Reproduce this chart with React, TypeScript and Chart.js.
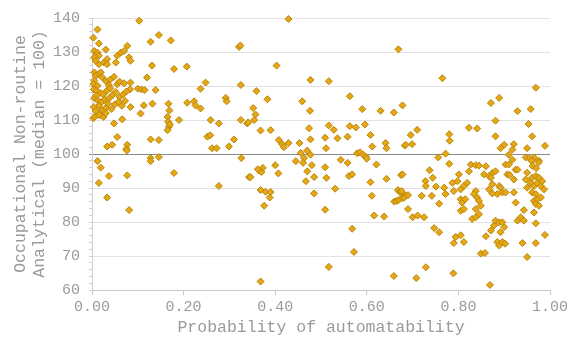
import React, { useEffect, useRef } from "react";
import { Chart, registerables } from "chart.js";

Chart.register(...registerables);

// [probability of automatability, occupational non-routine analytical score]
const lowRiskJobs: [number, number][] = [
  [0.012,136.6],[0.003,134.2],[0.015,132.5],[0.005,130.3],[0.012,129.8],[0.015,128.9],[0.005,128.4],[0.008,127.4],
  [0.015,126.4],[0.026,126.9],[0.033,127.9],[0.033,126.4],[0.030,130.7],[0.052,126.9],[0.055,128.9],[0.063,129.8],
  [0.070,130.3],[0.077,131.8],[0.081,128.4],[0.084,127.4],[0.005,124],[0.008,123],[0.005,121.6],[0.003,120.6],
  [0.012,120.1],[0.015,123.5],[0.019,124],[0.022,122.6],[0.030,121.5],[0.040,121.9],[0.048,122.7],[0.055,120.5],
  [0.060,121.3],[0.037,120.2],[0.084,121],[0.083,119],[0.070,120.8],
  [0.004,119],[0.010,118.5],[0.018,118],[0.025,117.5],[0.032,118.6],[0.040,119.3],[0.045,117.4],[0.052,118.2],
  [0.060,116.8],[0.068,117.5],[0.005,116.5],[0.012,115.8],[0.020,115.2],[0.028,116.1],[0.035,114.8],[0.015,114.2],
  [0.004,113.8],[0.008,112.7],[0.022,112.9],[0.030,113.5],[0.042,113.2],[0.050,114.6],[0.058,115.3],[0.065,114.2],
  [0.072,115.6],[0.018,111.5],[0.025,110.9],[0.003,110.5],[0.006,111],[0.015,111.5],[0.030,112],[0.048,109],
  [0.066,110.2],[0.010,117.2],[0.038,116.4],[0.075,118.4],
  [0.103,139.2],[0.128,133],[0.146,135],[0.172,133.4],[0.131,126],[0.179,125],[0.207,125.7],[0.321,131.5],
  [0.324,131.9],[0.120,122.5],[0.100,119.2],[0.108,119],[0.115,118.8],[0.139,118.8],[0.248,121],[0.237,119.2],
  [0.325,120.3],[0.084,113.8],[0.106,111.9],[0.113,114.3],[0.132,114.8],[0.167,114.8],[0.169,112.8],[0.165,110.9],
  [0.166,109.5],[0.168,108],[0.170,108.7],[0.165,107],[0.190,110],[0.208,115.1],[0.223,115.5],[0.226,114.3],
  [0.237,113.4],[0.292,116.5],[0.294,115.5],[0.259,110],[0.277,109],[0.325,110],[0.339,109],[0.055,105],
  [0.033,102.2],[0.044,102.7],[0.077,102.7],[0.075,101.5],[0.076,101],[0.128,104.3],[0.146,104.1],[0.252,105.1],
  [0.258,105.5],[0.262,101.7],[0.272,101.7],[0.299,102.2],[0.310,104.3],
  [0.012,97.9],[0.019,96],[0.037,93.5],[0.015,91.5],[0.033,87.2],[0.077,93.7],[0.081,83.5],[0.128,98.8],
  [0.128,97.9],[0.146,99.1],[0.179,94.4],[0.277,90.6],[0.326,98.8],[0.343,93.2],
];

const midRiskJobs: [number, number][] = [
  [0.429,139.7],[0.669,130.8],[0.403,126],[0.477,121.8],[0.517,121.4],[0.359,118.5],[0.383,116.1],[0.459,115.5],
  [0.476,112.7],[0.563,117],[0.590,113.2],[0.630,112.7],[0.659,112.2],[0.678,114.3],[0.352,113.5],[0.357,111.6],
  [0.354,110],[0.341,109.3],[0.368,106.9],[0.390,107],[0.408,104.1],[0.415,102.9],[0.419,102],[0.429,103.2],
  [0.474,107.6],[0.477,104.3],[0.453,103.2],[0.470,101],[0.477,99.8],[0.456,100.3],[0.463,98.8],[0.445,97.9],
  [0.461,97.4],[0.480,96.7],[0.470,94.9],[0.467,92],[0.485,93.2],[0.509,104.8],[0.511,101.7],[0.517,108.4],
  [0.528,107.1],[0.536,104.6],[0.509,96.1],[0.512,93],[0.531,89.8],[0.509,83.6],[0.485,88.4],[0.543,98.3],
  [0.558,97.4],[0.561,93.5],[0.568,94],[0.558,105.1],[0.563,108.2],[0.576,107.8],[0.596,108.7],[0.608,105.6],
  [0.612,102.2],[0.641,103.2],[0.643,101.7],[0.683,102.5],[0.579,100.2],[0.585,100.5],[0.592,99.8],[0.598,99.2],
  [0.600,98.6],[0.621,96.9],[0.608,91.7],[0.611,87.7],[0.616,81.9],[0.638,81.6],[0.643,92.7],[0.675,93.8],
  [0.668,89.4],[0.672,88.9],[0.675,88.5],[0.660,86],[0.665,86.2],[0.670,86.5],[0.678,87],[0.685,87.8],
  [0.568,78],[0.572,71.2],[0.517,66.8],[0.659,64.1],[0.368,62.5],[0.346,93.2],[0.365,95.1],[0.373,95.9],
  [0.370,94.7],[0.362,95.5],[0.368,89.4],[0.379,88.9],[0.390,88.8],[0.388,87.2],[0.376,84.8],[0.400,96.7],
  [0.407,94.3],
];

const highRiskJobs: [number, number][] = [
  [0.765,122.3],[0.969,119.5],[0.871,115],[0.889,116.5],[0.929,112.6],[0.958,113.2],[0.881,109.8],[0.881,105.2],
  [0.953,108.8],[0.961,105.2],[0.823,107.7],[0.841,107.5],[0.780,105.8],[0.781,103.9],[0.696,105.6],[0.710,107.1],
  [0.685,102.7],[0.699,102.9],[0.989,102.4],[0.892,101.7],[0.900,102.7],[0.921,102.9],[0.918,101.3],[0.950,101.7],
  [0.947,99],[0.965,99],[0.976,98],[0.955,98.7],[0.960,98],[0.772,100.1],[0.756,99],[0.780,97.1],
  [0.678,94],[0.676,89.1],[0.682,87.2],[0.690,87.9],[0.690,83.8],[0.700,81.4],[0.711,81.9],[0.725,81.4],
  [0.737,95.2],[0.744,93],[0.751,90.4],[0.728,92],[0.729,90.6],[0.720,87.7],[0.742,87.7],[0.758,85.4],
  [0.769,90.1],[0.772,88.2],[0.747,78.2],[0.758,77],[0.787,91.5],[0.790,89.1],[0.798,92],[0.801,94],
  [0.805,89.6],[0.812,90.6],[0.819,91.5],[0.823,94.9],[0.827,96.9],[0.838,96.7],[0.845,96.6],[0.860,96.4],
  [0.805,86.7],[0.808,85.7],[0.805,83.3],[0.815,86.7],[0.812,83.8],[0.838,89.1],[0.841,87.2],[0.845,86.2],
  [0.834,88.2],[0.830,80.9],[0.838,81.4],[0.794,75.6],[0.805,76.1],[0.790,73.8],[0.812,74.1],[0.849,70.7],
  [0.858,70.9],[0.860,75.8],[0.871,77.5],[0.878,79],[0.881,80.4],[0.889,79.9],[0.896,79.9],[0.900,78.5],
  [0.892,77],[0.885,74.1],[0.889,73.1],[0.896,74.1],[0.902,73.6],[0.867,93.5],[0.874,94.4],[0.881,94.9],
  [0.889,90.6],[0.892,90.1],[0.885,88.2],[0.896,88.7],[0.903,88.7],[0.907,94],[0.912,93.8],[0.903,96.9],
  [0.910,96.9],[0.921,92.5],[0.921,88.7],[0.925,85.7],[0.929,80.4],[0.936,81.4],[0.943,83.5],[0.940,73.8],
  [0.950,69.7],[0.918,98.3],[0.910,99.8],[0.925,95.4],[0.947,92.5],[0.950,90.1],[0.958,91.5],[0.961,93],
  [0.965,90.6],[0.969,93.5],[0.972,91.5],[0.976,93],[0.980,90.6],[0.983,92],[0.987,89.6],[0.961,88.7],
  [0.969,88.2],[0.965,86.2],[0.972,86.7],[0.980,87.2],[0.969,85.3],[0.976,84.8],[0.965,82.8],[0.943,80.4],
  [0.969,79.6],[0.969,73.8],[0.989,76.2],[0.975,97.5],[0.962,96.5],[0.970,95.8],[0.929,95.4],[0.950,94.5],
  [0.708,63.5],[0.729,66.7],[0.789,64.9],[0.869,61.5],[0.838,83.8],[0.845,82.3],[0.849,84.8],[0.856,94],
  [0.871,93],[0.874,91.1],[0.867,89.6],[0.874,88.4],
];

const xTitle = "Probability of automatability";
const yTitle = ["Occupational Non-routine", "Analytical (median = 100)"];

const FONT = "'Liberation Mono', 'Courier New', monospace";
const TEXT = "#9a9a9a";

export default function App() {
  const ref = useRef<HTMLCanvasElement | null>(null);

  useEffect(() => {
    if (!ref.current) return;
    const all = [...lowRiskJobs, ...midRiskJobs, ...highRiskJobs].map(([x, y]) => ({ x, y }));
    const chart = new Chart(ref.current, {
      type: "scatter",
      data: {
        datasets: [
          {
            data: all,
            clip: false,
            pointStyle: "rectRot",
            pointRadius: 3.5,
            pointBackgroundColor: "#E5A714",
            pointBorderColor: "#B8860B",
            pointBorderWidth: 1,
          },
        ],
      },
      options: {
        responsive: false,
        animation: false,
        devicePixelRatio: 1,
        layout: { padding: { top: 15, right: 18, bottom: 0, left: 0 } },
        plugins: { legend: { display: false }, tooltip: { enabled: false } },
        scales: {
          x: {
            type: "linear",
            min: 0,
            max: 1,
            afterFit: (s: any) => {
              s.height = 51;
              s.paddingLeft = 0;
              s.paddingRight = 0;
            },
            ticks: {
              stepSize: 0.2,
              padding: 3,
              color: TEXT,
              font: { family: FONT, size: 15 },
              callback: (v: any) => Number(v).toFixed(2),
            },
            grid: { drawOnChartArea: false, tickLength: 5, color: "#c8c8c8" },
            border: { color: "#c8c8c8" },
            title: {
              display: true,
              text: xTitle,
              color: TEXT,
              font: { family: FONT, size: 16.5, lineHeight: 1.1 },
              padding: { top: 0, bottom: 4 },
            },
          },
          y: {
            type: "linear",
            min: 60,
            max: 140,
            afterFit: (s: any) => {
              s.width = 92;
            },
            ticks: {
              stepSize: 2,
              autoSkip: false,
              padding: 9,
              color: TEXT,
              font: { family: FONT, size: 15 },
              callback: (v: any) => (Number(v) % 10 === 0 ? String(v) : ""),
            },
            grid: {
              tickLength: 3,
              color: (ctx: any) => {
                const v = ctx.tick ? ctx.tick.value : 0;
                if (v === 100) return "#8a8a8a";
                return v % 10 === 0 ? "#e2e2e2" : "rgba(0,0,0,0)";
              },
              tickColor: (ctx: any) => {
                const v = ctx.tick ? ctx.tick.value : 0;
                return v === 100 ? "#8a8a8a" : "#d0d0d0";
              },
            },
            border: { color: "#d0d0d0" },
            title: {
              display: true,
              text: yTitle,
              color: TEXT,
              font: { family: FONT, size: 16.5, lineHeight: 1.1 },
              padding: { top: 12, bottom: 0 },
            },
          },
        },
      },
    });
    return () => chart.destroy();
  }, []);

  return (
    <div style={{ position: "fixed", left: 0, top: 0, width: 568, height: 341, background: "#fff" }}>
      <canvas ref={ref} width={568} height={341} style={{ display: "block" }} />
    </div>
  );
}
